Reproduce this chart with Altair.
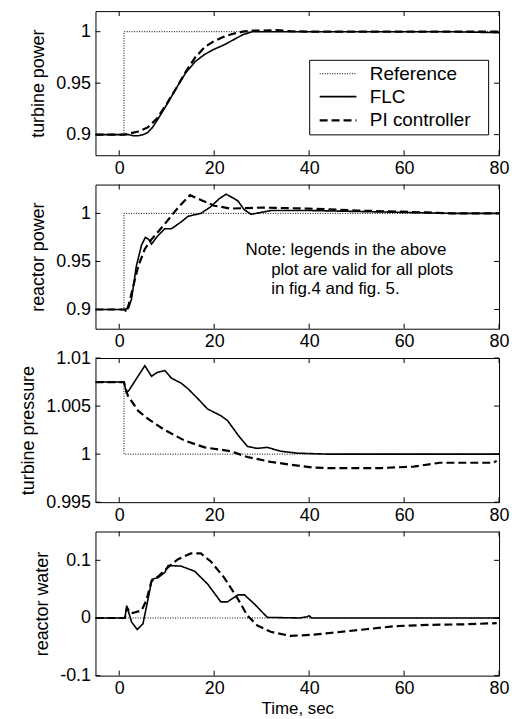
import altair as alt
import pandas as pd

FONT = "Liberation Sans"
W, H = 406, 145

x_ticks = [0, 20, 40, 60, 80]
series_names = ["Reference", "FLC", "PI controller"]

# ---- panel 1: turbine power
tp_ref_t = [-5, 1, 1, 80]
tp_ref_v = [0.9, 0.9, 1.0, 1.0]
tp_flc_t = [-5, 0, 2, 3, 4, 5, 6, 7, 8, 10, 12, 14, 16, 18, 20, 22, 24, 26, 28, 30, 35, 40, 50, 60, 70, 80]
tp_flc_v = [0.9, 0.9, 0.9, 0.899, 0.899, 0.9, 0.902, 0.907, 0.914, 0.929, 0.945, 0.96, 0.971, 0.978, 0.983,
            0.987, 0.992, 0.997, 1.0, 1.0, 1.0, 1.0, 1.0, 1.0, 1.0, 0.999]
tp_pi_t = [-5, 0, 1, 2, 4, 6, 8, 10, 12, 14, 16, 18, 20, 22, 24, 26, 28, 30, 33, 36, 40, 50, 80]
tp_pi_v = [0.9, 0.9, 0.9, 0.901, 0.903, 0.907, 0.916, 0.93, 0.945, 0.961, 0.975, 0.985, 0.991, 0.995, 0.998,
           1.0, 1.001, 1.001, 1.0015, 1.0005, 1.0, 1.0, 1.0]
tp_yticks = [0.9, 0.95, 1]

# ---- panel 2: reactor power
rp_ref_t = [-5, 1, 1, 80]
rp_ref_v = [0.9, 0.9, 1.0, 1.0]
rp_flc_t = [-5, 1.2, 2, 2.6, 3.6, 4.7, 5.5, 6.2, 6.8, 8, 9.6, 11, 13, 14.5, 17.2, 19.3, 21, 22.5, 24, 25, 26.3,
            27.8, 29.8, 32, 40, 50, 60, 70, 80]
rp_flc_v = [0.9, 0.9, 0.902, 0.911, 0.945, 0.967, 0.975, 0.973, 0.968, 0.976, 0.984, 0.984, 0.991, 0.997, 1.0,
            1.007, 1.015, 1.02, 1.016, 1.013, 1.004, 0.999, 1.001, 1.003, 1.003, 1.002, 1.001, 1.0, 1.0]
rp_pi_t = [-5, 1.2, 1.5, 2, 2.6, 4, 5.4, 6.8, 9.6, 12.4, 14.9, 17.2, 20, 23.5, 30, 40, 50, 65, 70, 80]
rp_pi_v = [0.9, 0.9, 0.897, 0.905, 0.917, 0.945, 0.963, 0.973, 0.989, 1.006, 1.019, 1.014, 1.008, 1.005, 1.006,
           1.005, 1.003, 1.001, 1.0, 1.0]
rp_yticks = [0.9, 0.95, 1]
note_lines = ["Note: legends in the above", "plot are valid for all plots", "in fig.4 and fig. 5."]
note_t = [26.6, 32.0, 32.0]
note_v = [0.962, 0.941, 0.921]

# ---- panel 3: turbine pressure
pr_ref_t = [-5, 1, 1, 80]
pr_ref_v = [1.0075, 1.0075, 1.0, 1.0]
pr_flc_t = [-5, 1, 1.5, 2, 3.3, 5.4, 6.8, 8, 9.6, 11, 13, 14.5, 16.5, 18.6, 21.4, 22.8, 25, 27, 29, 31.2, 34,
            37.5, 43.8, 60, 80]
pr_flc_v = [1.0075, 1.0075, 1.0064, 1.0066, 1.0076, 1.0092, 1.0081, 1.0085, 1.0087, 1.0079, 1.0074, 1.0068,
            1.0058, 1.0047, 1.004, 1.0035, 1.002, 1.0008, 1.0006, 1.0007, 1.0003, 1.0001, 1.0, 1.0, 1.0]
pr_pi_t = [-5, 1, 1.8, 4, 6, 9.6, 13.8, 18, 23.5, 27, 31.9, 36, 41, 44, 55, 62, 67.5, 78.7, 79.5]
pr_pi_v = [1.0075, 1.0075, 1.0061, 1.0045, 1.0037, 1.0025, 1.0014, 1.0007, 1.0003, 0.9997, 0.9992, 0.9989,
           0.9986, 0.99855, 0.99855, 0.9987, 0.9991, 0.9991, 0.9993]
pr_yticks = [0.995, 1, 1.005, 1.01]

# ---- panel 4: reactor water
rw_ref_t = [-5, 80]
rw_ref_v = [0, 0]
rw_flc_t = [-5, 1.2, 1.6, 2.6, 3.8, 5, 6, 6.9, 8.2, 9.6, 10.3, 13, 15.9, 18.6, 21.4, 22.8, 25, 26.4, 28.5, 31.2,
            38, 39.5, 40, 40.5, 50, 80]
rw_flc_v = [0, 0, 0.021, -0.007, -0.02, -0.01, 0.03, 0.067, 0.07, 0.079, 0.091, 0.09, 0.081, 0.059, 0.028, 0.028,
            0.04, 0.04, 0.024, 0.001, 0, 0.002, 0.004, 0.0, 0, 0]
rw_pi_t = [-5, 1.2, 1.6, 2.5, 4.7, 5.7, 6.8, 8.2, 10.3, 12.4, 15.1, 17.2, 19.3, 22.1, 25, 27, 29.1, 31.9, 36, 41,
           44.4, 51.5, 58.4, 65.3, 72.5, 79.5]
rw_pi_v = [0, 0, 0.018, 0.008, 0.013, 0.03, 0.064, 0.072, 0.088, 0.102, 0.112, 0.112, 0.098, 0.07, 0.033, 0.004,
           -0.013, -0.024, -0.031, -0.029, -0.026, -0.02, -0.014, -0.012, -0.011, -0.009]
rw_yticks = [-0.1, 0, 0.1]


def make_df(ref_t, ref_v, flc_t, flc_v, pi_t, pi_v):
    rows = []
    for name, ts, vs in (("Reference", ref_t, ref_v), ("PI controller", pi_t, pi_v), ("FLC", flc_t, flc_v)):
        for i, (t, v) in enumerate(zip(ts, vs)):
            rows.append({"t": t, "v": v, "series": name, "order": i})
    return pd.DataFrame(rows)


def panel(df, ydomain, yticks, ytitle, show_legend=False, xtitle=None, note=None):
    x_enc = alt.X("t:Q", scale=alt.Scale(domain=[-5, 80], nice=False, zero=False),
                  axis=alt.Axis(values=x_ticks, title=xtitle, labelPadding=4, titlePadding=3,
                                titleFontSize=17, labelFlush=False))
    y_enc = alt.Y("v:Q", scale=alt.Scale(domain=ydomain, nice=False, zero=False),
                  axis=alt.Axis(values=yticks, title=ytitle, labelExpr="toString(datum.value)",
                                labelPadding=5, titlePadding=8, labelFlush=False))
    if show_legend:
        leg = alt.Legend(title=None, orient="none", legendX=215, legendY=49, strokeColor="black",
                         fillColor="white", padding=4, labelFontSize=19, labelFont=FONT,
                         symbolType="M-0.47,0H3.42M16.4,0", symbolSize=361, symbolStrokeColor="black",
                         labelOffset=35, rowPadding=2.5, labelColor="black")
    else:
        leg = None
    lines = alt.Chart(df).mark_line(color="black", strokeCap="butt", clip=True).encode(
        x=x_enc, y=y_enc,
        strokeDash=alt.StrokeDash("series:N", scale=alt.Scale(domain=series_names,
                                                              range=[[1, 1.5], [1, 0], [8, 4]]), legend=leg),
        strokeWidth=alt.StrokeWidth("series:N", scale=alt.Scale(domain=series_names, range=[1, 2.2, 2.2]),
                                    legend=leg),
        order="order:Q",
        detail="series:N",
    )
    xt = pd.DataFrame({"t": x_ticks})
    yt = pd.DataFrame({"v": yticks})
    tb = alt.Chart(xt).mark_rule(color="black", strokeWidth=1).encode(x=x_enc, y=alt.value(H), y2=alt.value(H - 5))
    tt = alt.Chart(xt).mark_rule(color="black", strokeWidth=1).encode(x=x_enc, y=alt.value(0), y2=alt.value(5))
    tl = alt.Chart(yt).mark_rule(color="black", strokeWidth=1).encode(y=y_enc, x=alt.value(0), x2=alt.value(5))
    tr = alt.Chart(yt).mark_rule(color="black", strokeWidth=1).encode(y=y_enc, x=alt.value(W), x2=alt.value(W - 5))
    layers = [lines, tb, tt, tl, tr]
    if note is not None:
        txt = alt.Chart(note).mark_text(align="left", baseline="middle", fontSize=17, font=FONT,
                                        color="black").encode(x=x_enc, y=y_enc, text="label:N")
        layers.append(txt)
    return alt.layer(*layers).properties(width=W, height=H)


p1 = panel(make_df(tp_ref_t, tp_ref_v, tp_flc_t, tp_flc_v, tp_pi_t, tp_pi_v), [0.88, 1.02], tp_yticks,
           "turbine power", show_legend=True)
note_df = pd.DataFrame({"t": note_t, "v": note_v, "label": note_lines})
p2 = panel(make_df(rp_ref_t, rp_ref_v, rp_flc_t, rp_flc_v, rp_pi_t, rp_pi_v), [0.88, 1.03], rp_yticks,
           "reactor power", note=note_df)
p3 = panel(make_df(pr_ref_t, pr_ref_v, pr_flc_t, pr_flc_v, pr_pi_t, pr_pi_v), [0.995, 1.01], pr_yticks,
           "turbine pressure")
p4 = panel(make_df(rw_ref_t, rw_ref_v, rw_flc_t, rw_flc_v, rw_pi_t, rw_pi_v), [-0.1, 0.15], rw_yticks,
           "reactor water", xtitle="Time, sec")

chart = alt.vconcat(p1, p2, p3, p4, spacing=29.5, bounds="flush").resolve_scale(
    strokeDash="independent", strokeWidth="independent"
).resolve_legend(
    strokeDash="independent", strokeWidth="independent"
).properties(
    padding={"left": 11, "top": 0, "right": 0, "bottom": 0}
).configure_view(stroke="black", strokeWidth=1).configure_axis(
    domain=False, ticks=False, grid=False, labelFont=FONT, titleFont=FONT, labelFontSize=18,
    titleFontSize=18, titleFontWeight="normal", labelColor="black", titleColor="black"
)

chart.save("out.html", embed_options={"renderer": "svg", "actions": False})
